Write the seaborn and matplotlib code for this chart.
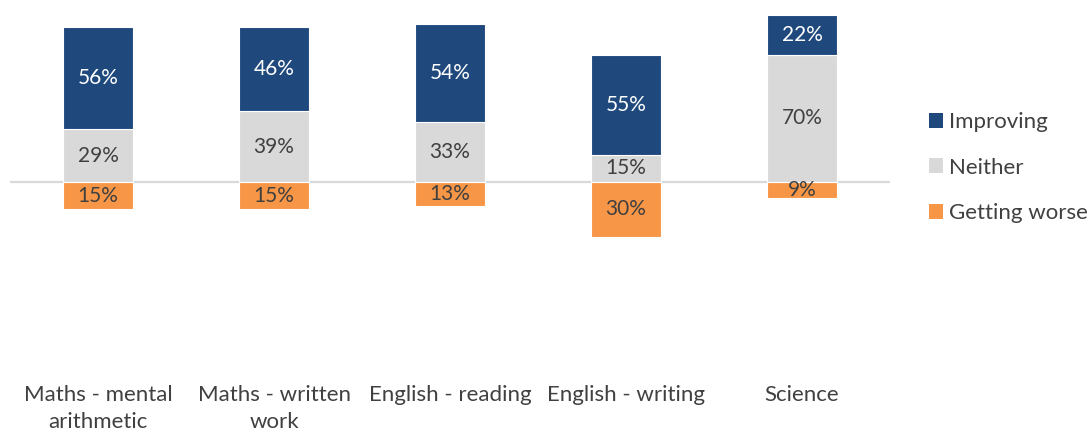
import matplotlib
matplotlib.use("Agg")
import matplotlib.pyplot as plt
import matplotlib.patches as mpatches
import seaborn as sns
import pandas as pd
import numpy as np

categories = ["Maths - mental\narithmetic", "Maths - written\nwork", "English - reading",
              "English - writing", "Science"]
improving = [56, 46, 54, 55, 22]
neither = [29, 39, 33, 15, 70]
getting_worse = [15, 15, 13, 30, 9]
series_names = ["Improving", "Neither", "Getting worse"]

navy = "#1F497D"
light = "#D9D9D9"
orange = "#F79646"
text_dark = "#404040"

sns.set_theme(style="white")
plt.rcParams["font.family"] = ["Lato", "DejaVu Sans"]

df = pd.DataFrame({
    "category": categories,
    "improving": improving,
    "neither": neither,
    "worse": [-v for v in getting_worse],
})

fig = plt.figure(figsize=(10.88, 4.32), dpi=100)
ax = fig.add_axes([10 / 1088, 1 - 364 / 432, 880 / 1088, 364 / 432])

bar_kw = dict(width=0.4, edgecolor="white", linewidth=0.8, ax=ax, order=categories)
sns.barplot(data=df, x="category", y="worse", color=orange, saturation=1, **bar_kw)
sns.barplot(data=df, x="category", y="neither", color=light, saturation=1, **bar_kw)
sns.barplot(data=df, x="category", y="improving", color=navy, saturation=1,
            bottom=np.array(neither), **bar_kw)

ax.axhline(0, color="#D9D9D9", lw=1.6, zorder=0.5)
ax.set_ylim(-100, 100)
ax.set_xlim(-0.5, len(categories) - 0.5)
ax.set_yticks([])
ax.set_xlabel("")
ax.set_ylabel("")
for s in ax.spines.values():
    s.set_visible(False)
ax.set_xticks(range(len(categories)))
ax.set_xticklabels(categories, fontsize=16, color=text_dark, linespacing=1.45)
ax.tick_params(axis="x", length=0, pad=15)

lbl_size = 15
for i in range(len(categories)):
    w, n, im = getting_worse[i], neither[i], improving[i]
    ax.text(i, -w / 2, f"{w}%", ha="center", va="center", fontsize=lbl_size, color=text_dark)
    ax.text(i, n / 2, f"{n}%", ha="center", va="center", fontsize=lbl_size, color=text_dark)
    ax.text(i, n + im / 2, f"{im}%", ha="center", va="center", fontsize=lbl_size, color="white")

handles = [mpatches.Patch(facecolor=c, edgecolor="none", label=l)
           for c, l in zip([navy, light, orange], series_names)]
fig.legend(handles=handles, loc="upper left", bbox_to_anchor=(909 / 1088, 1 - 92 / 432),
           frameon=False, fontsize=16, labelcolor=text_dark, handlelength=0.65,
           handleheight=0.65, handletextpad=0.25, labelspacing=1.15)

fig.savefig("out.png", dpi=100)
